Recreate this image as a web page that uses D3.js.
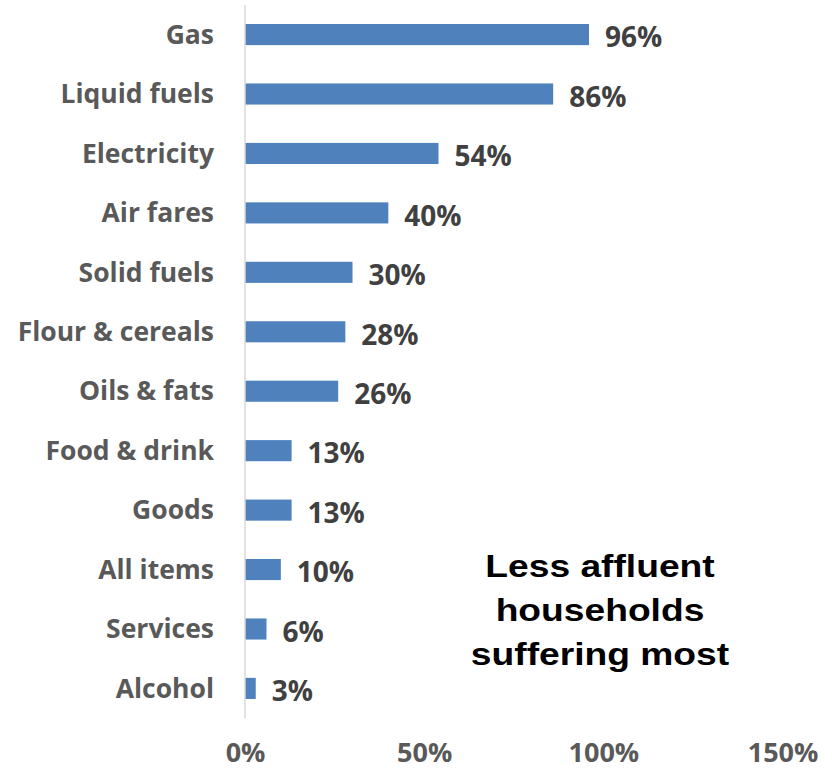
<!DOCTYPE html>
<html><head><meta charset="utf-8">
<script src="https://cdn.jsdelivr.net/npm/d3@7"></script>
<style>body{margin:0;background:#fff}</style>
</head><body>
<script>
const categories = ["Gas","Liquid fuels","Electricity","Air fares","Solid fuels","Flour & cereals","Oils & fats","Food & drink","Goods","All items","Services","Alcohol"];
const values = [0.96,0.86,0.54,0.40,0.30,0.28,0.26,0.13,0.13,0.10,0.06,0.03];
const ticks = [0,0.5,1,1.5];
const note = ["Less affluent","households","suffering most"];

const W=832,H=770;
const svg=d3.select("body").append("svg").attr("width",W).attr("height",H);
const x=d3.scaleLinear().domain([0,1.5]).range([245,782.5]);
const y=d3.scaleBand().domain(categories).range([5,718]).paddingInner(0.645).paddingOuter(0.32);
const font="'Open Sans', Lato, sans-serif";

svg.append("g").selectAll("rect").data(values).join("rect")
 .attr("x",x(0)).attr("y",(d,i)=>y(categories[i]))
 .attr("width",d=>x(d)-x(0)).attr("height",y.bandwidth())
 .attr("fill","#4f81bd");

svg.append("line").attr("x1",x(0)).attr("x2",x(0)).attr("y1",5).attr("y2",718)
 .attr("stroke","#d9d9d9").attr("stroke-width",1.5);

svg.append("g").selectAll("text").data(categories).join("text")
 .attr("x",214).attr("y",d=>y(d)+y.bandwidth()/2).attr("dy","0.35em")
 .attr("text-anchor","end").attr("font-family",font).attr("font-weight","bold")
 .attr("font-size",26.5).attr("fill","#595959").text(d=>d);

svg.append("g").selectAll("text").data(values).join("text")
 .attr("x",d=>x(d)+16).attr("y",(d,i)=>y(categories[i])+y.bandwidth()/2+3).attr("dy","0.35em")
 .attr("font-family",font).attr("font-weight","bold")
 .attr("font-size",28).attr("fill","#404040").text(d=>Math.round(d*100)+"%");

const ax=d3.axisBottom(x).tickValues(ticks).tickFormat(d3.format(".0%")).tickSize(0);
const g=svg.append("g").attr("transform","translate(0,740)").call(ax);
g.select(".domain").remove();
g.selectAll("text").attr("font-family",font).attr("font-weight","bold").attr("font-size",27).attr("fill","#595959");

svg.append("g").attr("transform","translate(600,0) scale(1.2,1)")
 .selectAll("text").data(note).join("text")
 .attr("x",0).attr("y",(d,i)=>577+i*44).attr("text-anchor","middle")
 .attr("font-family","'Liberation Sans', Arial, sans-serif").attr("font-weight","bold")
 .attr("font-size",31).attr("fill","#000").text(d=>d);
</script>
</body></html>
